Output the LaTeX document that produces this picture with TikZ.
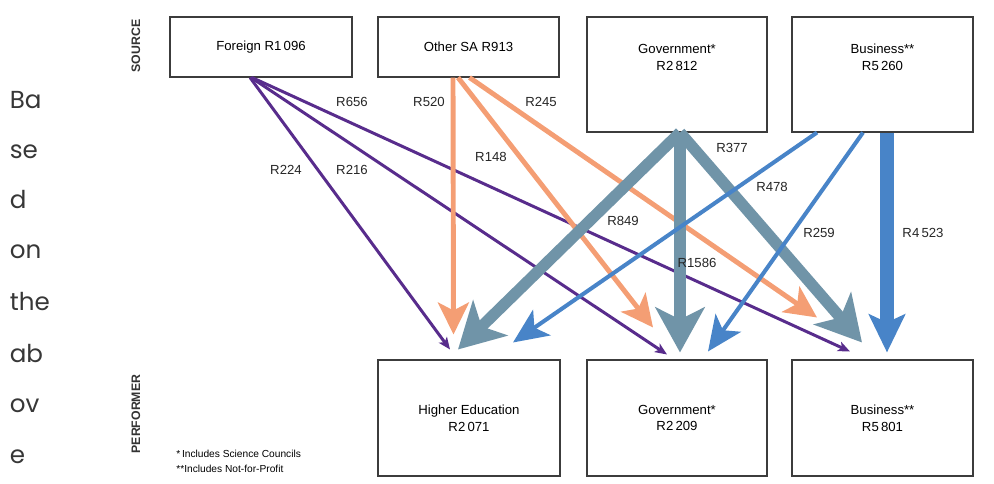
\documentclass[tikz,border=0pt]{standalone}
\usepackage{fontspec}
\setmainfont{Liberation Sans}
\newfontfamily\wrapfont{Poppins}
\usetikzlibrary{arrows.meta, calc}
\definecolor{foreigncolor}{RGB}{88,44,140}
\definecolor{othersacolor}{RGB}{244,158,116}
\definecolor{govcolor}{RGB}{112,148,168}
\definecolor{buscolor}{RGB}{72,132,200}
\definecolor{boxcolor}{RGB}{60,60,60}
\definecolor{wrapcolor}{RGB}{55,55,55}

\begin{document}
\begin{tikzpicture}[
    every node/.style={font=\fontsize{7.5}{9.5}\selectfont},
    flowbox/.style={draw=boxcolor, line width=0.6pt, minimum width=3.63cm, minimum height=#1, inner sep=0pt, align=center},
    boxtext/.style={align=center, inner sep=0pt},
    flowlabel/.style={text=black!85, inner sep=0pt},
    sidelabel/.style={rotate=90, font=\bfseries\fontsize{7}{8}\selectfont, text=black!80},
    wraptext/.style={anchor=base west, inner sep=0pt, text=wrapcolor, font=\wrapfont\fontsize{14}{16}\selectfont},
    foreignflow/.style={draw=foreigncolor, line width=1.7pt, -{Stealth[length=0.24cm, width=0.2cm, inset=0.06cm]}},
    othersaflow/.style={draw=othersacolor, line width=2.8pt, -{Stealth[length=0.64cm, width=0.62cm, inset=0.16cm]}},
    govflow/.style={draw=govcolor, line width=6.5pt, -{Stealth[length=0.9cm, width=0.98cm, inset=0.24cm]}},
    busflow/.style={draw=buscolor, line width=2.3pt, -{Stealth[length=0.7cm, width=0.62cm, inset=0.18cm]}},
    busmain/.style={draw=buscolor, line width=8.5pt, -{Stealth[length=0.76cm, width=0.72cm, inset=0.16cm]}},
]
\useasboundingbox (0,0) rectangle (19.88,-9.66);

%% Wrapped body text on the left
\foreach \word/\base [count=\i] in {Ba/-2.16, se/-3.16, d/-4.16, on/-5.16, the/-6.2, ab/-7.24, ov/-8.24, e/-9.26}
    \node[wraptext] (wrap\i) at (0.19,\base) {\word};

%% Side labels
\node[sidelabel] (source) at (2.72,-0.92) {SOURCE};
\node[sidelabel] (performer) at (2.72,-8.28) {PERFORMER};

%% Sources
\node[flowbox=1.2cm, minimum width=3.64cm] (foreign) at (5.22,-0.94) {Foreign R1\,096};
\node[flowbox=1.2cm, minimum width=3.62cm] (othersa) at (9.37,-0.94) {Other SA R913};
\node[flowbox=2.3cm, minimum width=3.6cm] (govsrc) at (13.54,-1.49) {};
\node[boxtext] (govsrc-text) at (13.54,-1.15) {Government*\\R2\,812};
\node[flowbox=2.3cm, minimum width=3.62cm] (bussrc) at (17.65,-1.49) {};
\node[boxtext] (bussrc-text) at (17.65,-1.15) {Business**\\R5\,260};

%% Performers
\node[flowbox=2.32cm, minimum width=3.64cm] (hiedu) at (9.38,-8.36) {Higher Education\\R2\,071};
\node[flowbox=2.32cm, minimum width=3.6cm] (govperf) at (13.54,-8.36) {Government*\\R2\,209};
\node[flowbox=2.32cm, minimum width=3.62cm] (busperf) at (17.65,-8.36) {Business**\\R5\,801};

%% Footnote
\node[anchor=north west, align=left, inner sep=0pt, font=\fontsize{5.8}{8.5}\selectfont] (notes) at (3.52,-9.0)
    {*\,Includes Science Councils\\**Includes Not-for-Profit};

%% Flows from Foreign
\draw[foreignflow] ([xshift=-0.22cm]foreign.south) -- ([xshift=-0.38cm, yshift=0.2cm]hiedu.north);
\draw[foreignflow] ([xshift=-0.2cm]foreign.south) -- ([xshift=-0.2cm, yshift=0.1cm]govperf.north);
\draw[foreignflow] ([xshift=-0.18cm]foreign.south) -- ([xshift=-0.65cm, yshift=0.16cm]busperf.north);

%% Flows from Other SA
\draw[othersaflow] ([xshift=-0.31cm]othersa.south) -- ([xshift=-0.31cm, yshift=0.5cm]hiedu.north);
\draw[othersaflow] ([xshift=-0.21cm]othersa.south) -- ([xshift=-0.48cm, yshift=0.64cm]govperf.north);
\draw[othersaflow] ([xshift=0.02cm]othersa.south) -- ([xshift=-1.31cm, yshift=0.84cm]busperf.north);

%% Flows from Government
\draw[govflow] ([xshift=0.06cm]govsrc.south) -- ([xshift=-0.22cm, yshift=0.2cm]hiedu.north);
\draw[govflow] ([xshift=0.06cm]govsrc.south) -- ([xshift=0.06cm, yshift=0.14cm]govperf.north);
\draw[govflow] ([xshift=0.06cm]govsrc.south) -- ([xshift=-0.41cm, yshift=0.34cm]busperf.north);

%% Flows from Business
\draw[busflow] ([xshift=-1.31cm]bussrc.south) -- ([xshift=0.88cm, yshift=0.34cm]hiedu.north);
\draw[busflow] ([xshift=-0.39cm]bussrc.south) -- ([xshift=0.62cm, yshift=0.16cm]govperf.north);
\draw[busmain] ([xshift=0.09cm]bussrc.south) -- ([xshift=0.09cm, yshift=0.14cm]busperf.north);

%% Flow values
\node[flowlabel] (v656) at (7.04,-2.04) {R656};
\node[flowlabel] (v520) at (8.58,-2.04) {R520};
\node[flowlabel] (v245) at (10.82,-2.04) {R245};
\node[flowlabel] (v224) at (5.72,-3.4) {R224};
\node[flowlabel] (v216) at (7.04,-3.4) {R216};
\node[flowlabel] (v148) at (9.82,-3.14) {R148};
\node[flowlabel] (v849) at (12.46,-4.42) {R849};
\node[flowlabel] (v377) at (14.64,-2.96) {R377};
\node[flowlabel] (v478) at (15.44,-3.74) {R478};
\node[flowlabel] (v259) at (16.38,-4.66) {R259};
\node[flowlabel] (v4523) at (18.46,-4.66) {R4\,523};
\node[flowlabel] (v1586) at (13.94,-5.26) {R1586};

\end{tikzpicture}
\end{document}
